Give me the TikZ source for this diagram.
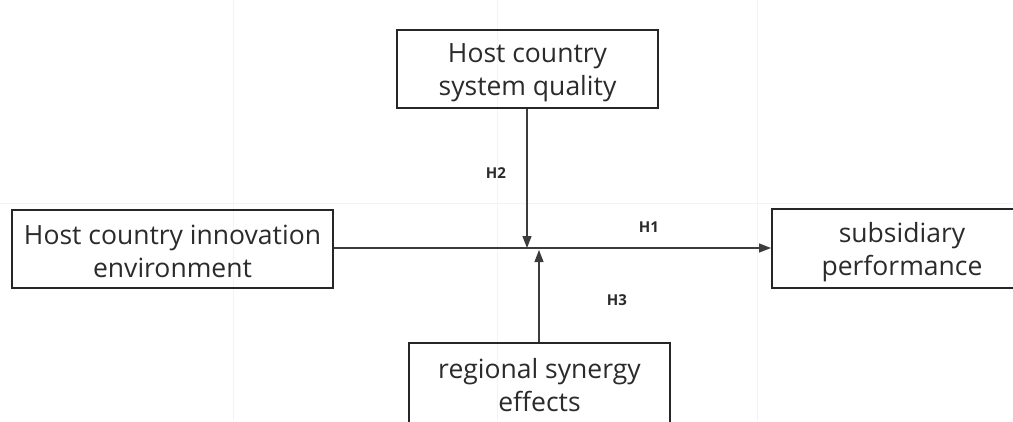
\documentclass[tikz,border=0pt]{standalone}
\usepackage{fontspec}
\setmainfont{Open Sans}
\usetikzlibrary{arrows.meta}
\definecolor{txt}{HTML}{2B2B2B}
\definecolor{edge}{HTML}{262626}
\definecolor{gridc}{HTML}{F3F3F3}
\begin{document}
\begin{tikzpicture}[x=1pt,y=-1pt,
  box/.style={draw=edge,line width=2pt,rectangle,inner sep=0pt},
  boxtext/.style={text=txt,align=center,inner sep=0pt,font=\fontsize{26.5}{33}\selectfont},
  conn/.style={draw=edge!90,line width=1.3pt,-{Triangle[length=12pt,width=9pt]}},
  hlab/.style={text=txt,font=\fontsize{15}{18}\selectfont\bfseries,inner sep=0pt}]
\useasboundingbox (0,0) rectangle (1013,421);
\clip (0,0) rectangle (1013,421);
\fill[white] (0,0) rectangle (1013,421);
% faint background grid
\draw[gridc,line width=0.8pt] (0,203) -- (1013,203);
\draw[gridc,line width=0.8pt] (233,0) -- (233,421);
\draw[gridc,line width=0.8pt] (497,0) -- (497,421);
\draw[gridc,line width=0.8pt] (757,0) -- (757,421);
% boxes
\node[box,minimum width=261pt,minimum height=78pt] (sys) at (527.5,69) {};
\node[boxtext] (syst) at (527.5,73) {Host country\\system quality};
\node[box,minimum width=321pt,minimum height=78pt] (inn) at (172.5,249) {};
\node[boxtext] (innt) at (172.5,251) {Host country innovation\\environment};
\node[box,minimum width=260pt,minimum height=79pt] (perf) at (902,248.5) {};
\node[boxtext] (perft) at (902,252) {subsidiary\\performance};
\node[box,minimum width=261pt,minimum height=82pt] (reg) at (539.5,384) {};
\node[boxtext] (regt) at (539.5,385) {regional synergy\\effects};
% junction coordinates
\coordinate (j2) at (527,248);
\coordinate (j3) at (539,250);
% connectors
\draw[conn] (inn.east |- j2) -- (perf.west |- j2);
\draw[conn] (sys.south -| j2) -- (j2);
\draw[conn] (reg.north -| j3) -- (j3);
% labels
\node[hlab] (h1) at (649,227) {H1};
\node[hlab] (h2) at (496,173) {H2};
\node[hlab] (h3) at (617,300) {H3};
\end{tikzpicture}
\end{document}
